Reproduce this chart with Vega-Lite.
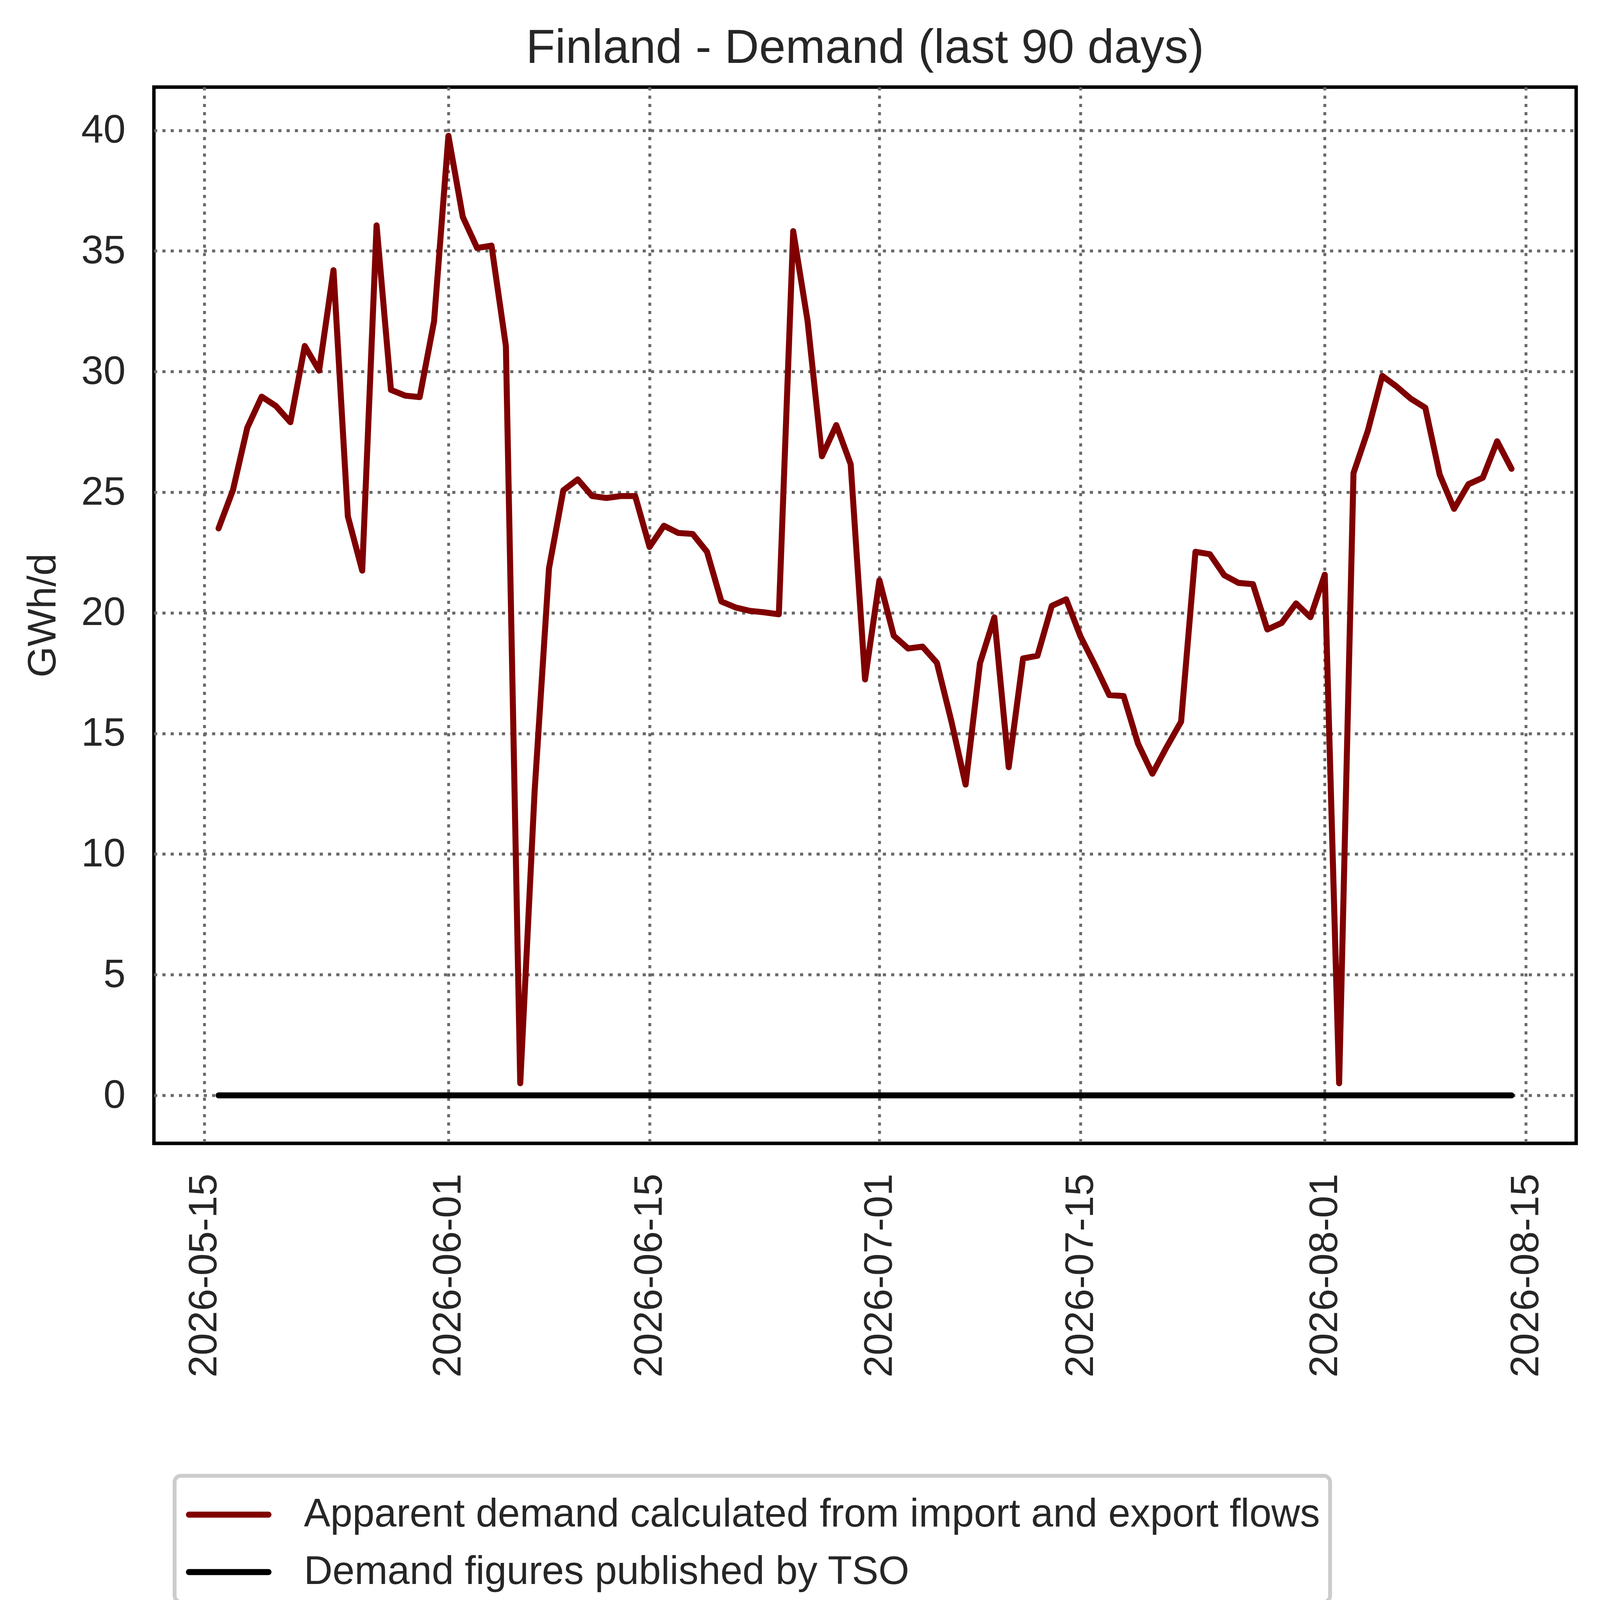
{
  "$schema": "https://vega.github.io/schema/vega-lite/v6.json",
  "autosize": {"type": "none"},
  "width": 3641,
  "height": 2704,
  "padding": {"left": 394, "top": 223, "right": 61, "bottom": 1259},
  "background": "white",
  "title": {
    "text": "Finland - Demand (last 90 days)",
    "font": "Liberation Sans",
    "fontSize": 122,
    "fontWeight": "normal",
    "color": "#262626",
    "anchor": "middle",
    "baseline": "alphabetic",
    "offset": -60
  },
  "data": {
    "values": [
      {"date": "2026-05-16", "series": "Apparent demand calculated from import and export flows", "value": 23.5},
      {"date": "2026-05-17", "series": "Apparent demand calculated from import and export flows", "value": 25.08},
      {"date": "2026-05-18", "series": "Apparent demand calculated from import and export flows", "value": 27.67},
      {"date": "2026-05-19", "series": "Apparent demand calculated from import and export flows", "value": 28.96},
      {"date": "2026-05-20", "series": "Apparent demand calculated from import and export flows", "value": 28.57},
      {"date": "2026-05-21", "series": "Apparent demand calculated from import and export flows", "value": 27.9},
      {"date": "2026-05-22", "series": "Apparent demand calculated from import and export flows", "value": 31.06},
      {"date": "2026-05-23", "series": "Apparent demand calculated from import and export flows", "value": 30.04},
      {"date": "2026-05-24", "series": "Apparent demand calculated from import and export flows", "value": 34.2},
      {"date": "2026-05-25", "series": "Apparent demand calculated from import and export flows", "value": 24.0},
      {"date": "2026-05-26", "series": "Apparent demand calculated from import and export flows", "value": 21.75},
      {"date": "2026-05-27", "series": "Apparent demand calculated from import and export flows", "value": 36.06},
      {"date": "2026-05-28", "series": "Apparent demand calculated from import and export flows", "value": 29.24},
      {"date": "2026-05-29", "series": "Apparent demand calculated from import and export flows", "value": 29.0},
      {"date": "2026-05-30", "series": "Apparent demand calculated from import and export flows", "value": 28.94},
      {"date": "2026-05-31", "series": "Apparent demand calculated from import and export flows", "value": 32.08},
      {"date": "2026-06-01", "series": "Apparent demand calculated from import and export flows", "value": 39.77},
      {"date": "2026-06-02", "series": "Apparent demand calculated from import and export flows", "value": 36.41},
      {"date": "2026-06-03", "series": "Apparent demand calculated from import and export flows", "value": 35.12},
      {"date": "2026-06-04", "series": "Apparent demand calculated from import and export flows", "value": 35.22},
      {"date": "2026-06-05", "series": "Apparent demand calculated from import and export flows", "value": 31.06},
      {"date": "2026-06-06", "series": "Apparent demand calculated from import and export flows", "value": 0.5},
      {"date": "2026-06-07", "series": "Apparent demand calculated from import and export flows", "value": 12.6},
      {"date": "2026-06-08", "series": "Apparent demand calculated from import and export flows", "value": 21.84},
      {"date": "2026-06-09", "series": "Apparent demand calculated from import and export flows", "value": 25.08},
      {"date": "2026-06-10", "series": "Apparent demand calculated from import and export flows", "value": 25.53},
      {"date": "2026-06-11", "series": "Apparent demand calculated from import and export flows", "value": 24.84},
      {"date": "2026-06-12", "series": "Apparent demand calculated from import and export flows", "value": 24.76},
      {"date": "2026-06-13", "series": "Apparent demand calculated from import and export flows", "value": 24.84},
      {"date": "2026-06-14", "series": "Apparent demand calculated from import and export flows", "value": 24.84},
      {"date": "2026-06-15", "series": "Apparent demand calculated from import and export flows", "value": 22.73},
      {"date": "2026-06-16", "series": "Apparent demand calculated from import and export flows", "value": 23.61},
      {"date": "2026-06-17", "series": "Apparent demand calculated from import and export flows", "value": 23.31},
      {"date": "2026-06-18", "series": "Apparent demand calculated from import and export flows", "value": 23.27},
      {"date": "2026-06-19", "series": "Apparent demand calculated from import and export flows", "value": 22.53},
      {"date": "2026-06-20", "series": "Apparent demand calculated from import and export flows", "value": 20.47},
      {"date": "2026-06-21", "series": "Apparent demand calculated from import and export flows", "value": 20.22},
      {"date": "2026-06-22", "series": "Apparent demand calculated from import and export flows", "value": 20.08},
      {"date": "2026-06-23", "series": "Apparent demand calculated from import and export flows", "value": 20.02},
      {"date": "2026-06-24", "series": "Apparent demand calculated from import and export flows", "value": 19.94},
      {"date": "2026-06-25", "series": "Apparent demand calculated from import and export flows", "value": 35.82},
      {"date": "2026-06-26", "series": "Apparent demand calculated from import and export flows", "value": 32.1},
      {"date": "2026-06-27", "series": "Apparent demand calculated from import and export flows", "value": 26.49},
      {"date": "2026-06-28", "series": "Apparent demand calculated from import and export flows", "value": 27.78},
      {"date": "2026-06-29", "series": "Apparent demand calculated from import and export flows", "value": 26.16},
      {"date": "2026-06-30", "series": "Apparent demand calculated from import and export flows", "value": 17.24},
      {"date": "2026-07-01", "series": "Apparent demand calculated from import and export flows", "value": 21.35},
      {"date": "2026-07-02", "series": "Apparent demand calculated from import and export flows", "value": 19.05},
      {"date": "2026-07-03", "series": "Apparent demand calculated from import and export flows", "value": 18.52},
      {"date": "2026-07-04", "series": "Apparent demand calculated from import and export flows", "value": 18.6},
      {"date": "2026-07-05", "series": "Apparent demand calculated from import and export flows", "value": 17.93},
      {"date": "2026-07-06", "series": "Apparent demand calculated from import and export flows", "value": 15.53},
      {"date": "2026-07-07", "series": "Apparent demand calculated from import and export flows", "value": 12.88},
      {"date": "2026-07-08", "series": "Apparent demand calculated from import and export flows", "value": 17.91},
      {"date": "2026-07-09", "series": "Apparent demand calculated from import and export flows", "value": 19.81},
      {"date": "2026-07-10", "series": "Apparent demand calculated from import and export flows", "value": 13.6},
      {"date": "2026-07-11", "series": "Apparent demand calculated from import and export flows", "value": 18.11},
      {"date": "2026-07-12", "series": "Apparent demand calculated from import and export flows", "value": 18.22},
      {"date": "2026-07-13", "series": "Apparent demand calculated from import and export flows", "value": 20.29},
      {"date": "2026-07-14", "series": "Apparent demand calculated from import and export flows", "value": 20.56},
      {"date": "2026-07-15", "series": "Apparent demand calculated from import and export flows", "value": 19.02},
      {"date": "2026-07-16", "series": "Apparent demand calculated from import and export flows", "value": 17.84},
      {"date": "2026-07-17", "series": "Apparent demand calculated from import and export flows", "value": 16.59},
      {"date": "2026-07-18", "series": "Apparent demand calculated from import and export flows", "value": 16.55},
      {"date": "2026-07-19", "series": "Apparent demand calculated from import and export flows", "value": 14.58},
      {"date": "2026-07-20", "series": "Apparent demand calculated from import and export flows", "value": 13.33},
      {"date": "2026-07-21", "series": "Apparent demand calculated from import and export flows", "value": 14.44},
      {"date": "2026-07-22", "series": "Apparent demand calculated from import and export flows", "value": 15.49},
      {"date": "2026-07-23", "series": "Apparent demand calculated from import and export flows", "value": 22.53},
      {"date": "2026-07-24", "series": "Apparent demand calculated from import and export flows", "value": 22.43},
      {"date": "2026-07-25", "series": "Apparent demand calculated from import and export flows", "value": 21.56},
      {"date": "2026-07-26", "series": "Apparent demand calculated from import and export flows", "value": 21.24},
      {"date": "2026-07-27", "series": "Apparent demand calculated from import and export flows", "value": 21.19},
      {"date": "2026-07-28", "series": "Apparent demand calculated from import and export flows", "value": 19.31},
      {"date": "2026-07-29", "series": "Apparent demand calculated from import and export flows", "value": 19.58},
      {"date": "2026-07-30", "series": "Apparent demand calculated from import and export flows", "value": 20.39},
      {"date": "2026-07-31", "series": "Apparent demand calculated from import and export flows", "value": 19.82},
      {"date": "2026-08-01", "series": "Apparent demand calculated from import and export flows", "value": 21.58},
      {"date": "2026-08-02", "series": "Apparent demand calculated from import and export flows", "value": 0.5},
      {"date": "2026-08-03", "series": "Apparent demand calculated from import and export flows", "value": 25.79},
      {"date": "2026-08-04", "series": "Apparent demand calculated from import and export flows", "value": 27.55},
      {"date": "2026-08-05", "series": "Apparent demand calculated from import and export flows", "value": 29.82},
      {"date": "2026-08-06", "series": "Apparent demand calculated from import and export flows", "value": 29.38},
      {"date": "2026-08-07", "series": "Apparent demand calculated from import and export flows", "value": 28.87},
      {"date": "2026-08-08", "series": "Apparent demand calculated from import and export flows", "value": 28.5},
      {"date": "2026-08-09", "series": "Apparent demand calculated from import and export flows", "value": 25.73},
      {"date": "2026-08-10", "series": "Apparent demand calculated from import and export flows", "value": 24.31},
      {"date": "2026-08-11", "series": "Apparent demand calculated from import and export flows", "value": 25.33},
      {"date": "2026-08-12", "series": "Apparent demand calculated from import and export flows", "value": 25.6},
      {"date": "2026-08-13", "series": "Apparent demand calculated from import and export flows", "value": 27.11},
      {"date": "2026-08-14", "series": "Apparent demand calculated from import and export flows", "value": 25.97},
      {"date": "2026-05-16", "series": "Demand figures published by TSO", "value": 0},
      {"date": "2026-05-17", "series": "Demand figures published by TSO", "value": 0},
      {"date": "2026-05-18", "series": "Demand figures published by TSO", "value": 0},
      {"date": "2026-05-19", "series": "Demand figures published by TSO", "value": 0},
      {"date": "2026-05-20", "series": "Demand figures published by TSO", "value": 0},
      {"date": "2026-05-21", "series": "Demand figures published by TSO", "value": 0},
      {"date": "2026-05-22", "series": "Demand figures published by TSO", "value": 0},
      {"date": "2026-05-23", "series": "Demand figures published by TSO", "value": 0},
      {"date": "2026-05-24", "series": "Demand figures published by TSO", "value": 0},
      {"date": "2026-05-25", "series": "Demand figures published by TSO", "value": 0},
      {"date": "2026-05-26", "series": "Demand figures published by TSO", "value": 0},
      {"date": "2026-05-27", "series": "Demand figures published by TSO", "value": 0},
      {"date": "2026-05-28", "series": "Demand figures published by TSO", "value": 0},
      {"date": "2026-05-29", "series": "Demand figures published by TSO", "value": 0},
      {"date": "2026-05-30", "series": "Demand figures published by TSO", "value": 0},
      {"date": "2026-05-31", "series": "Demand figures published by TSO", "value": 0},
      {"date": "2026-06-01", "series": "Demand figures published by TSO", "value": 0},
      {"date": "2026-06-02", "series": "Demand figures published by TSO", "value": 0},
      {"date": "2026-06-03", "series": "Demand figures published by TSO", "value": 0},
      {"date": "2026-06-04", "series": "Demand figures published by TSO", "value": 0},
      {"date": "2026-06-05", "series": "Demand figures published by TSO", "value": 0},
      {"date": "2026-06-06", "series": "Demand figures published by TSO", "value": 0},
      {"date": "2026-06-07", "series": "Demand figures published by TSO", "value": 0},
      {"date": "2026-06-08", "series": "Demand figures published by TSO", "value": 0},
      {"date": "2026-06-09", "series": "Demand figures published by TSO", "value": 0},
      {"date": "2026-06-10", "series": "Demand figures published by TSO", "value": 0},
      {"date": "2026-06-11", "series": "Demand figures published by TSO", "value": 0},
      {"date": "2026-06-12", "series": "Demand figures published by TSO", "value": 0},
      {"date": "2026-06-13", "series": "Demand figures published by TSO", "value": 0},
      {"date": "2026-06-14", "series": "Demand figures published by TSO", "value": 0},
      {"date": "2026-06-15", "series": "Demand figures published by TSO", "value": 0},
      {"date": "2026-06-16", "series": "Demand figures published by TSO", "value": 0},
      {"date": "2026-06-17", "series": "Demand figures published by TSO", "value": 0},
      {"date": "2026-06-18", "series": "Demand figures published by TSO", "value": 0},
      {"date": "2026-06-19", "series": "Demand figures published by TSO", "value": 0},
      {"date": "2026-06-20", "series": "Demand figures published by TSO", "value": 0},
      {"date": "2026-06-21", "series": "Demand figures published by TSO", "value": 0},
      {"date": "2026-06-22", "series": "Demand figures published by TSO", "value": 0},
      {"date": "2026-06-23", "series": "Demand figures published by TSO", "value": 0},
      {"date": "2026-06-24", "series": "Demand figures published by TSO", "value": 0},
      {"date": "2026-06-25", "series": "Demand figures published by TSO", "value": 0},
      {"date": "2026-06-26", "series": "Demand figures published by TSO", "value": 0},
      {"date": "2026-06-27", "series": "Demand figures published by TSO", "value": 0},
      {"date": "2026-06-28", "series": "Demand figures published by TSO", "value": 0},
      {"date": "2026-06-29", "series": "Demand figures published by TSO", "value": 0},
      {"date": "2026-06-30", "series": "Demand figures published by TSO", "value": 0},
      {"date": "2026-07-01", "series": "Demand figures published by TSO", "value": 0},
      {"date": "2026-07-02", "series": "Demand figures published by TSO", "value": 0},
      {"date": "2026-07-03", "series": "Demand figures published by TSO", "value": 0},
      {"date": "2026-07-04", "series": "Demand figures published by TSO", "value": 0},
      {"date": "2026-07-05", "series": "Demand figures published by TSO", "value": 0},
      {"date": "2026-07-06", "series": "Demand figures published by TSO", "value": 0},
      {"date": "2026-07-07", "series": "Demand figures published by TSO", "value": 0},
      {"date": "2026-07-08", "series": "Demand figures published by TSO", "value": 0},
      {"date": "2026-07-09", "series": "Demand figures published by TSO", "value": 0},
      {"date": "2026-07-10", "series": "Demand figures published by TSO", "value": 0},
      {"date": "2026-07-11", "series": "Demand figures published by TSO", "value": 0},
      {"date": "2026-07-12", "series": "Demand figures published by TSO", "value": 0},
      {"date": "2026-07-13", "series": "Demand figures published by TSO", "value": 0},
      {"date": "2026-07-14", "series": "Demand figures published by TSO", "value": 0},
      {"date": "2026-07-15", "series": "Demand figures published by TSO", "value": 0},
      {"date": "2026-07-16", "series": "Demand figures published by TSO", "value": 0},
      {"date": "2026-07-17", "series": "Demand figures published by TSO", "value": 0},
      {"date": "2026-07-18", "series": "Demand figures published by TSO", "value": 0},
      {"date": "2026-07-19", "series": "Demand figures published by TSO", "value": 0},
      {"date": "2026-07-20", "series": "Demand figures published by TSO", "value": 0},
      {"date": "2026-07-21", "series": "Demand figures published by TSO", "value": 0},
      {"date": "2026-07-22", "series": "Demand figures published by TSO", "value": 0},
      {"date": "2026-07-23", "series": "Demand figures published by TSO", "value": 0},
      {"date": "2026-07-24", "series": "Demand figures published by TSO", "value": 0},
      {"date": "2026-07-25", "series": "Demand figures published by TSO", "value": 0},
      {"date": "2026-07-26", "series": "Demand figures published by TSO", "value": 0},
      {"date": "2026-07-27", "series": "Demand figures published by TSO", "value": 0},
      {"date": "2026-07-28", "series": "Demand figures published by TSO", "value": 0},
      {"date": "2026-07-29", "series": "Demand figures published by TSO", "value": 0},
      {"date": "2026-07-30", "series": "Demand figures published by TSO", "value": 0},
      {"date": "2026-07-31", "series": "Demand figures published by TSO", "value": 0},
      {"date": "2026-08-01", "series": "Demand figures published by TSO", "value": 0},
      {"date": "2026-08-02", "series": "Demand figures published by TSO", "value": 0},
      {"date": "2026-08-03", "series": "Demand figures published by TSO", "value": 0},
      {"date": "2026-08-04", "series": "Demand figures published by TSO", "value": 0},
      {"date": "2026-08-05", "series": "Demand figures published by TSO", "value": 0},
      {"date": "2026-08-06", "series": "Demand figures published by TSO", "value": 0},
      {"date": "2026-08-07", "series": "Demand figures published by TSO", "value": 0},
      {"date": "2026-08-08", "series": "Demand figures published by TSO", "value": 0},
      {"date": "2026-08-09", "series": "Demand figures published by TSO", "value": 0},
      {"date": "2026-08-10", "series": "Demand figures published by TSO", "value": 0},
      {"date": "2026-08-11", "series": "Demand figures published by TSO", "value": 0},
      {"date": "2026-08-12", "series": "Demand figures published by TSO", "value": 0},
      {"date": "2026-08-13", "series": "Demand figures published by TSO", "value": 0},
      {"date": "2026-08-14", "series": "Demand figures published by TSO", "value": 0}
    ]
  },
  "mark": {"type": "line", "strokeWidth": 15.4, "strokeCap": "round", "strokeJoin": "round"},
  "encoding": {
    "x": {
      "field": "date",
      "type": "temporal",
      "scale": {
        "type": "utc",
        "domain": [
          {"year": 2026, "month": 5, "date": 11, "hours": 12, "utc": true},
          {"year": 2026, "month": 8, "date": 18, "hours": 12, "utc": true}
        ]
      },
      "axis": {
        "title": null,
        "format": "%Y-%m-%d",
        "labelAngle": -90,
        "labelPadding": 77,
        "labelLimit": 2000,
        "labelOverlap": false,
        "values": [
          {"year": 2026, "month": 5, "date": 15, "utc": true},
          {"year": 2026, "month": 6, "date": 1, "utc": true},
          {"year": 2026, "month": 6, "date": 15, "utc": true},
          {"year": 2026, "month": 7, "date": 1, "utc": true},
          {"year": 2026, "month": 7, "date": 15, "utc": true},
          {"year": 2026, "month": 8, "date": 1, "utc": true},
          {"year": 2026, "month": 8, "date": 15, "utc": true}
        ]
      }
    },
    "y": {
      "field": "value",
      "type": "quantitative",
      "scale": {"domain": [-1.99, 41.79], "nice": false, "zero": false},
      "axis": {
        "title": "GWh/d",
        "values": [0, 5, 10, 15, 20, 25, 30, 35, 40],
        "labelPadding": 73,
        "titlePadding": 45
      }
    },
    "color": {
      "field": "series",
      "type": "nominal",
      "sort": ["Apparent demand calculated from import and export flows", "Demand figures published by TSO"],
      "scale": {
        "domain": ["Apparent demand calculated from import and export flows", "Demand figures published by TSO"],
        "range": ["#800000", "#000000"]
      },
      "legend": {
        "title": null,
        "orient": "none",
        "legendX": 53,
        "legendY": 3555,
        "symbolType": "M-1.56,0H1.56",
        "symbolSize": 17060,
        "symbolStrokeWidth": 15.4,
        "symbolOffset": 39,
        "labelOffset": 119,
        "labelFontSize": 101.5,
        "labelFont": "Liberation Sans",
        "labelColor": "#262626",
        "labelLimit": 5000,
        "rowPadding": 23,
        "padding": 26,
        "fillColor": "white",
        "strokeColor": "#cccccc",
        "cornerRadius": 16,
        "encode": {
          "legend": {"update": {"strokeWidth": {"value": 10}}},
          "symbols": {"update": {"strokeCap": {"value": "round"}}}
        }
      }
    }
  },
  "config": {
    "view": {"stroke": "#000000", "strokeWidth": 8.8},
    "axis": {
      "labelFont": "Liberation Sans",
      "labelFontSize": 102,
      "labelColor": "#262626",
      "titleFont": "Liberation Sans",
      "titleFontSize": 102,
      "titleFontWeight": "normal",
      "titleColor": "#262626",
      "domain": false,
      "ticks": false,
      "grid": true,
      "gridColor": "#696969",
      "gridWidth": 7.3,
      "gridDash": [8, 13.2],
      "gridOpacity": 1
    }
  }
}
